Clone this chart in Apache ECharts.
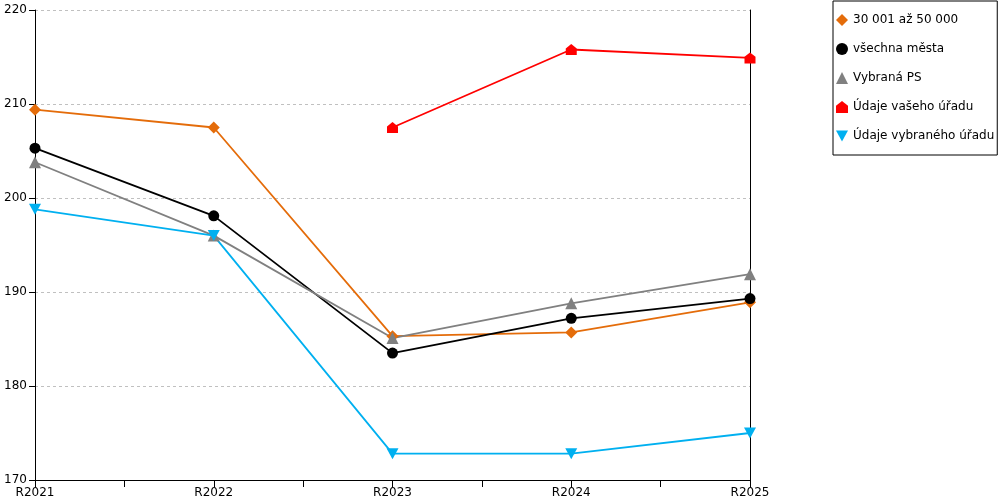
<!DOCTYPE html>
<html><head><meta charset="utf-8">
<script src="https://cdn.jsdelivr.net/npm/echarts@6/dist/echarts.min.js"></script>
<style>html,body{margin:0;padding:0;background:#fff}#c{width:1000px;height:500px}</style>
</head><body><div id="c"></div>
<script>
const categories = ['R2021','R2022','R2023','R2024','R2025'];
const s30001 = [209.4, 207.5, 185.3, 185.7, 188.9];
const vsechnaMesta = [205.3, 198.1, 183.5, 187.2, 189.3];
const vybranaPS = [203.8, 196.0, 185.1, 188.8, 191.9];
const udajeVasehoUradu = [null, null, 207.5, 215.8, 214.9];
const udajeVybranehoUradu = [198.8, 196.0, 172.8, 172.8, 175.0];
const yTicks = [170, 180, 190, 200, 210, 220];

const FONT = 'DejaVu Sans';
const house = 'path://M5,0 L10,4 L10,10 L0,10 L0,4 Z';
const downTri = 'path://M0,0 L10,0 L5,9 Z';
const toPts = arr => arr.map((v,i) => [i, v]);

const seriesDefs = [
  {name:'30 001 až 50 000', data:s30001, color:'#E46C0A', symbol:'diamond', size:12},
  {name:'všechna města', data:vsechnaMesta, color:'#000000', symbol:'circle', size:11},
  {name:'Vybraná PS', data:vybranaPS, color:'#808080', symbol:'triangle', size:12},
  {name:'Údaje vašeho úřadu', data:udajeVasehoUradu, color:'#FF0000', symbol:house, size:[11,11]},
  {name:'Údaje vybraného úřadu', data:udajeVybranehoUradu, color:'#00B0F0', symbol:downTri, size:[12,11]}
];

const chart = echarts.init(document.getElementById('c'));
chart.setOption({
  animation:false,
  textStyle:{fontFamily:FONT},
  grid:{left:35, top:10, right:250, bottom:20},
  legend:{
    orient:'vertical', left:833, top:1,
    padding:[13,3,13,3], itemWidth:12, itemHeight:12, itemGap:17,
    borderColor:'#000', borderWidth:1,
    textStyle:{fontFamily:FONT, fontSize:12, color:'#000'},
    data: seriesDefs.map(s => ({name:s.name, icon:s.symbol}))
  },
  xAxis:{
    type:'value', min:0, max:categories.length-1, interval:0.5,
    axisLine:{show:true, lineStyle:{color:'#000', width:1}},
    axisTick:{show:true, length:7, lineStyle:{color:'#000'}},
    splitLine:{show:false},
    axisLabel:{fontFamily:FONT, fontSize:12, color:'#000', margin:7,
      formatter: v => Number.isInteger(v) ? categories[v] : ''}
  },
  yAxis:[{
    type:'value', min:yTicks[0], max:yTicks[yTicks.length-1], interval:10,
    axisLine:{show:true, lineStyle:{color:'#000', width:1}},
    axisTick:{show:true, length:6, lineStyle:{color:'#000'}},
    splitLine:{show:true, lineStyle:{color:'#c0c0c0', type:[3,3], width:1}},
    axisLabel:{fontFamily:FONT, fontSize:12, color:'#000', margin:8}
  },{
    type:'value', min:yTicks[0], max:yTicks[yTicks.length-1], interval:10, position:'right',
    axisLine:{show:true, onZero:false, lineStyle:{color:'#000', width:1}},
    axisTick:{show:false}, axisLabel:{show:false}, splitLine:{show:false}
  }],
  series: seriesDefs.map(s => ({
    name:s.name, type:'line', data:toPts(s.data), connectNulls:false,
    symbol:s.symbol, symbolSize:s.size, showSymbol:true,
    lineStyle:{color:s.color, width:1.8},
    itemStyle:{color:s.color},
    emphasis:{disabled:true}
  }))
});
</script></body></html>
